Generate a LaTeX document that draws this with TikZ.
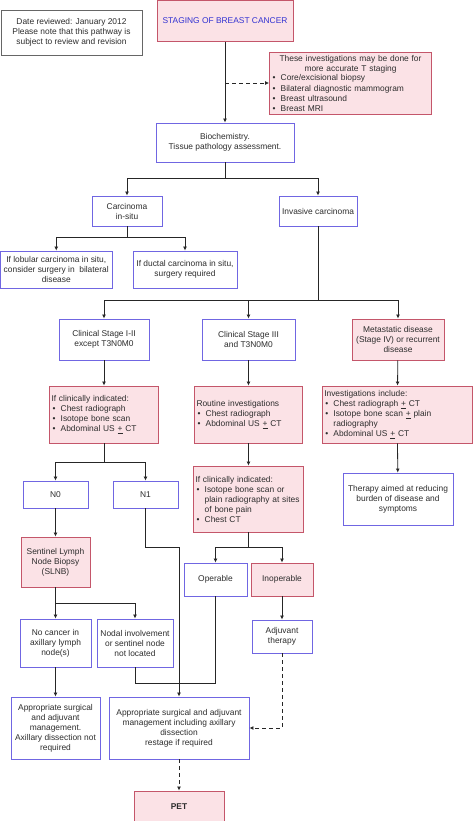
\documentclass[tikz,border=0pt]{standalone}
\usepackage{fontspec}
\setmainfont{Liberation Sans}
\usetikzlibrary{arrows.meta,positioning}
\definecolor{pinkfill}{RGB}{251,226,230}
\definecolor{pinkline}{RGB}{196,86,106}
\definecolor{blueline}{RGB}{112,102,226}
\definecolor{titleblue}{RGB}{50,50,210}
\definecolor{txtgray}{RGB}{45,45,45}
\newcommand{\blt}{\hspace*{1.2pt}\makebox[8pt][l]{\textbullet}}
\newcommand{\bind}{\hspace*{9.2pt}}

\begin{document}
\begin{tikzpicture}
  [x=1pt,y=-1pt,
   font=\fontsize{8.4}{10}\selectfont,text=txtgray,
   blueN/.style={draw=blueline,fill=white,line width=0.9pt,align=center,inner sep=1pt},
   pinkN/.style={draw=pinkline,fill=pinkfill,line width=0.9pt,align=center,inner sep=1pt},
   listN/.style={pinkN,align=left,inner sep=2pt},
   arr/.style={-{Latex[length=4pt,width=4pt]},line width=0.8pt,black!85},
   darr/.style={arr,dash pattern=on 4pt off 3pt},
   lineC/.style={line width=0.8pt,black!85}]

  \useasboundingbox (0,0) rectangle (474,821);

  % top
  \node[draw=black!60,fill=white,line width=0.9pt,align=center,inner sep=1pt,
        minimum width=141,minimum height=45] (date) at (71.5,32.5)
    {Date reviewed: January 2012\\ Please note that this pathway is\\ subject to review and revision};
  \node[pinkN,minimum width=136,minimum height=40.5,text=titleblue] (title) at (225,21)
    {STAGING OF BREAST CANCER};
  \node[listN,text width=158,minimum height=62] (tinv) at (350.5,83)
    {\makebox[\linewidth]{These investigations may be done for}\\
     \makebox[\linewidth]{more accurate T staging}\\
     \blt Core/excisional biopsy\\
     \blt Bilateral diagnostic mammogram\\
     \blt Breast ultrasound\\
     \blt Breast MRI};
  \node[blueN,minimum width=138,minimum height=39] (bio) at (225,142.5)
    {Biochemistry.\\ Tissue pathology assessment.};

  \coordinate (tj) at (225,83);
  \draw[arr] (title) -- (bio);
  \draw[darr] (tj) -- (tinv);

  % in situ / invasive
  \node[blueN,minimum width=70,minimum height=30] (cis) at (127,211) {Carcinoma\\ in-situ};
  \node[blueN,minimum width=78,minimum height=30] (inv) at (318,211) {Invasive carcinoma};
  \node[blueN,minimum width=111.5,minimum height=37] (lob) at (56.25,269.5)
    {If lobular carcinoma in situ,\\ consider surgery in\ \ bilateral\\ disease};
  \node[blueN,minimum width=104,minimum height=37] (duc) at (185,269.5)
    {If ductal carcinoma in situ,\\ surgery required};

  \draw[arr] (bio.south) -- ++(0,16) -| (cis.north);
  \draw[arr] (bio.south) -- ++(0,16) -| (inv.north);
  \draw[arr] (cis.south) -- ++(0,11) -| (lob.north);
  \draw[arr] (cis.south) -- ++(0,11) -| (duc.north);

  % clinical stages
  \node[blueN,minimum width=90,minimum height=41] (c12) at (104,339.5)
    {Clinical Stage I-II\\ except T3N0M0};
  \node[blueN,minimum width=93,minimum height=41] (c3) at (248.5,339.5)
    {Clinical Stage III\\ and T3N0M0};
  \node[pinkN,minimum width=92,minimum height=41] (meta) at (398,339.5)
    {Metastatic disease\\ (Stage IV) or recurrent\\ disease};

  \draw[arr] (inv.south) -- ++(0,74) -| (c12.north);
  \draw[arr] (inv.south) -- ++(0,74) -| (c3.north);
  \draw[arr] (inv.south) -- ++(0,74) -| (meta.north);

  \node[listN,text width=105,minimum height=57] (ind1) at (104,414.5)
    {If clinically indicated:\\
     \blt Chest radiograph\\
     \blt Isotope bone scan\\
     \blt Abdominal US \underline{+} CT};
  \node[listN,text width=104,minimum height=57] (rout) at (248.5,414.5)
    {Routine investigations\\
     \blt Chest radiograph\\
     \blt Abdominal US \underline{+} CT};
  \node[listN,text width=146,minimum height=57] (minv) at (397.25,414.5)
    {Investigations include:\\
     \blt Chest radiograph \underline{+} CT\\
     \blt Isotope bone scan \underline{+} plain\\
     \bind radiography\\
     \blt Abdominal US \underline{+} CT};

  \draw[arr] (c12) -- (ind1);
  \draw[arr] (c3) -- (rout);
  \draw[arr] (meta) -- (minv);

  % lower part
  \node[blueN,minimum width=65,minimum height=27] (n0) at (55.5,494.5) {N0};
  \node[blueN,minimum width=65,minimum height=27] (n1) at (145.5,494.5) {N1};
  \node[listN,text width=106,minimum height=66] (ind2) at (248.5,499)
    {If clinically indicated:\\
     \blt Isotope bone scan or\\
     \bind plain radiography at sites\\
     \bind of bone pain\\
     \blt Chest CT};
  \node[blueN,minimum width=110,minimum height=52] (ther) at (398,499)
    {Therapy aimed at reducing\\ burden of disease and\\ symptoms};

  \draw[arr] (ind1.south) -- ++(0,19) -| (n0.north);
  \draw[arr] (ind1.south) -- ++(0,19) -| (n1.north);
  \draw[arr] (rout) -- (ind2);
  \draw[arr] (minv) -- (ther);

  \node[pinkN,minimum width=69,minimum height=50] (slnb) at (55.5,562)
    {Sentinel Lymph\\ Node Biopsy\\ (SLNB)};
  \node[blueN,minimum width=63,minimum height=33] (oper) at (215.5,579.5) {Operable};
  \node[pinkN,minimum width=62,minimum height=33] (inop) at (282,579.5) {Inoperable};

  \draw[arr] (n0) -- (slnb);
  \draw[arr] (ind2.south) -- ++(0,15) -| (oper.north);
  \draw[arr] (ind2.south) -- ++(0,15) -| (inop.north);

  \node[blueN,minimum width=71,minimum height=48] (noca) at (55.5,643)
    {No cancer in\\ axillary lymph\\ node(s)};
  \node[blueN,minimum width=76,minimum height=48] (nod) at (135,643)
    {Nodal involvement\\ or sentinel node\\ not located};
  \node[blueN,minimum width=60,minimum height=33] (adj) at (282,636.5)
    {Adjuvant\\ therapy};

  \draw[arr] (slnb.south) -- ++(0,16) -| (noca.north);
  \draw[arr] (slnb.south) -- ++(0,16) -| (nod.north);
  \draw[arr] (inop) -- (adj);

  \node[blueN,minimum width=89,minimum height=62] (appl) at (55.5,728)
    {Appropriate surgical\\ and adjuvant\\ management.\\ Axillary dissection not\\ required};
  \node[blueN,minimum width=140,minimum height=62] (appm) at (179,728)
    {Appropriate surgical and adjuvant\\ management including axillary\\ dissection\\ restage if required};
  \node[pinkN,minimum width=90,minimum height=31,font=\fontsize{8.4}{10}\selectfont\bfseries] (pet) at (179,806.5) {PET};

  \coordinate (mj) at (179,683);
  \draw[arr] (n1.south) -- ++(0,39) -| (appm.north);
  \draw[lineC] (nod.south) |- (mj);
  \draw[lineC] (oper.south) |- (mj);
  \draw[arr] (noca) -- (appl);
  \draw[darr] (adj.south) |- (appm.east);
  \draw[darr] (appm) -- (pet);

\end{tikzpicture}
\end{document}
